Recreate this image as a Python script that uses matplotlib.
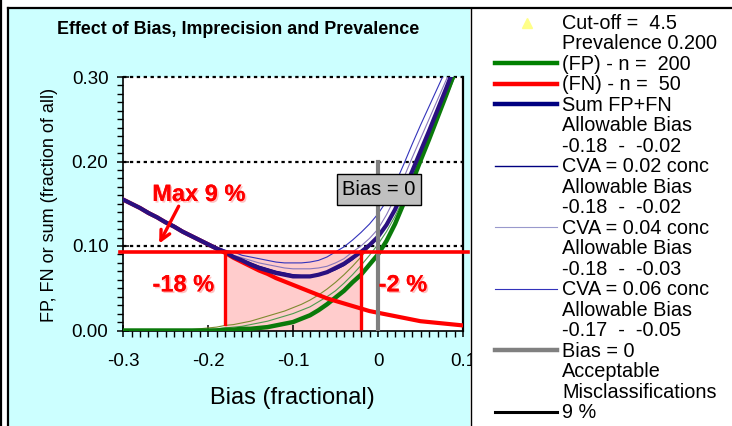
import matplotlib
matplotlib.use("Agg")
import matplotlib.pyplot as plt
from matplotlib.patches import Rectangle
from matplotlib.lines import Line2D
import matplotlib.patheffects as pe
from matplotlib.ticker import MultipleLocator, FixedLocator

plt.rcParams['font.family'] = ['Liberation Sans', 'DejaVu Sans']

# ---------------- data ----------------
bias = [-0.30, -0.29, -0.28, -0.27, -0.26, -0.25, -0.24, -0.23, -0.22, -0.21,
        -0.20, -0.19, -0.18, -0.17, -0.16, -0.15, -0.14, -0.13, -0.12, -0.11,
        -0.10, -0.09, -0.08, -0.07, -0.06, -0.05, -0.04, -0.03, -0.02, -0.01,
        0.00, 0.01, 0.02, 0.03, 0.04, 0.05, 0.06, 0.07, 0.08, 0.09, 0.10]

fp = [0.000, 0.000, 0.000, 0.000, 0.000, 0.000, 0.000, 0.000, 0.000, 0.000,
      0.000, 0.000, 0.001, 0.001, 0.002, 0.002, 0.003, 0.004, 0.006, 0.008,
      0.010, 0.014, 0.018, 0.024, 0.031, 0.039, 0.047, 0.057, 0.066, 0.078,
      0.090, 0.106, 0.126, 0.150, 0.175, 0.201, 0.226, 0.252, 0.278, 0.305, 0.332]

fn = [0.155, 0.150, 0.145, 0.139, 0.134, 0.128, 0.123, 0.117, 0.112, 0.107,
      0.102, 0.097, 0.092, 0.086, 0.081, 0.076, 0.071, 0.067, 0.062, 0.058,
      0.054, 0.050, 0.046, 0.042, 0.038, 0.035, 0.032, 0.029, 0.026, 0.023,
      0.021, 0.019, 0.017, 0.015, 0.013, 0.011, 0.010, 0.009, 0.008, 0.007, 0.006]

sum_fp_fn = [0.155, 0.150, 0.145, 0.139, 0.134, 0.128, 0.123, 0.117, 0.112, 0.107,
             0.102, 0.097, 0.093, 0.087, 0.083, 0.078, 0.074, 0.071, 0.068, 0.066,
             0.064, 0.064, 0.064, 0.066, 0.069, 0.074, 0.079, 0.086, 0.093, 0.101,
             0.111, 0.125, 0.143, 0.165, 0.188, 0.212, 0.236, 0.261, 0.286, 0.312, 0.338]

cva02_sum = [0.155, 0.150, 0.145, 0.139, 0.134, 0.128, 0.123, 0.117, 0.112, 0.107,
             0.102, 0.097, 0.093, 0.088, 0.084, 0.080, 0.076, 0.073, 0.070, 0.068,
             0.066, 0.065, 0.065, 0.066, 0.068, 0.072, 0.077, 0.084, 0.093, 0.101,
             0.112, 0.126, 0.144, 0.165, 0.188, 0.212, 0.237, 0.262, 0.287, 0.313, 0.339]

cva04_sum = [0.156, 0.151, 0.145, 0.140, 0.134, 0.129, 0.124, 0.118, 0.113, 0.108,
             0.103, 0.098, 0.093, 0.089, 0.086, 0.083, 0.080, 0.078, 0.076, 0.074,
             0.073, 0.073, 0.073, 0.074, 0.076, 0.080, 0.085, 0.093, 0.100, 0.109,
             0.120, 0.137, 0.157, 0.180, 0.204, 0.227, 0.250, 0.273, 0.296, 0.319, 0.342]

cva06_sum = [0.156, 0.151, 0.146, 0.141, 0.135, 0.130, 0.125, 0.119, 0.114, 0.109,
             0.104, 0.099, 0.095, 0.093, 0.089, 0.087, 0.085, 0.083, 0.081, 0.080,
             0.080, 0.080, 0.081, 0.083, 0.087, 0.093, 0.099, 0.107, 0.116, 0.126,
             0.138, 0.153, 0.173, 0.196, 0.220, 0.243, 0.265, 0.287, 0.309, 0.331, 0.353]

cva04_fp = [0.000, 0.000, 0.000, 0.000, 0.000, 0.000, 0.000, 0.000, 0.000, 0.000,
            0.001, 0.002, 0.003, 0.004, 0.005, 0.007, 0.009, 0.011, 0.014, 0.017,
            0.020, 0.024, 0.028, 0.034, 0.040, 0.047, 0.056, 0.066, 0.077, 0.089,
            0.102, 0.117, 0.135, 0.156, 0.179, 0.203, 0.227, 0.251, 0.275, 0.299, 0.323]

cva06_fp = [0.000, 0.000, 0.000, 0.000, 0.000, 0.000, 0.000, 0.000, 0.001, 0.002,
            0.003, 0.004, 0.006, 0.007, 0.009, 0.011, 0.014, 0.017, 0.020, 0.023,
            0.027, 0.031, 0.036, 0.042, 0.049, 0.057, 0.066, 0.076, 0.087, 0.099,
            0.112, 0.127, 0.145, 0.166, 0.189, 0.212, 0.235, 0.258, 0.281, 0.304, 0.327]

allow_lo, allow_hi = -0.18, -0.02
max_misclass = 0.093
drop_bottoms = [0.008, 0.003]
bias_zero_top = 0.20

xticks = [-0.3, -0.2, -0.1, 0.0, 0.1]
xticklabels = ["-0.3", "-0.2", "-0.1", "0", "0.1"]
yticks = [0.0, 0.1, 0.2, 0.3]
yticklabels = ["0.00", "0.10", "0.20", "0.30"]

legend_texts = ["Cut-off =  4.5", "Prevalence 0.200", "(FP) - n =  200", "(FN) - n =  50",
                "Sum FP+FN", "Allowable Bias", "-0.18  -  -0.02", "CVA = 0.02 conc",
                "Allowable Bias", "-0.18  -  -0.02", "CVA = 0.04 conc", "Allowable Bias",
                "-0.18  -  -0.03", "CVA = 0.06 conc", "Allowable Bias", "-0.17  -  -0.05",
                "Bias = 0", "Acceptable", "Misclassifications", "9 %"]

# ---------------- figure ----------------
W, H = 732, 426
fig = plt.figure(figsize=(W / 100, H / 100), dpi=100)


def fx(px):
    return px / W


def fy(py):
    return 1 - py / H


# cyan chart panel (behind axes)
fig.patches.append(Rectangle((fx(9), 0), fx(470) - fx(9), fy(9), transform=fig.transFigure,
                             facecolor='#CCFFFF', edgecolor='none', zorder=-2))
# white legend panel (over axes, clips the "0.1" label)
fig.patches.append(Rectangle((fx(471), 0), 1 - fx(471), fy(9), transform=fig.transFigure,
                             facecolor='white', edgecolor='none', zorder=5))
# borders
for xs, ys, lw in [([fx(1), fx(1)], [0, 1], 1.6),
                   ([fx(8), fx(8)], [0, fy(8)], 1.6),
                   ([fx(8), 1], [fy(8), fy(8)], 1.6),
                   ([fx(470.5), fx(470.5)], [0, fy(8)], 1.0)]:
    fig.lines.append(Line2D(xs, ys, transform=fig.transFigure, color='black', lw=lw, zorder=6))

ax = fig.add_axes([fx(123), fy(330.5), (463 - 123) / W, (330.5 - 77) / H])
ax.set_facecolor('white')
ax.set_xlim(-0.3, 0.1)
ax.set_ylim(0, 0.3)

# shaded allowable region
ax.fill_between([allow_lo, allow_hi], 0, max_misclass, color='#FFCCCC', lw=0, zorder=1)

# dotted grid lines
for yv in yticks[1:]:
    ax.axhline(yv, color='black', lw=1.6, ls=(0, (1.5, 1.6)), zorder=1.5, clip_on=False)

# CVA curves (thin)
ax.plot(bias, cva06_fp, color='#7F8A30', lw=0.8, zorder=2)
ax.plot(bias, cva04_fp, color='#4F9A4F', lw=0.8, zorder=2)
ax.plot(bias, cva06_sum, color='#3333BB', lw=0.8, zorder=2.2)
ax.plot(bias, cva04_sum, color='#8877BB', lw=0.8, zorder=2.2)
ax.plot(bias, cva02_sum, color='#000080', lw=1.0, zorder=2.2)

# main curves
ax.plot(bias, fp, color='#0A7A0A', lw=3.2, zorder=3)
ax.plot(bias, fn, color='#FF0000', lw=3.0, zorder=3.1)
ax.plot(bias, sum_fp_fn, color='#2A1080', lw=3.0, zorder=3.2)

# bias = 0 marker
ax.plot([0, 0], [0, bias_zero_top], color='#808080', lw=3.0, zorder=3.5)

# acceptable misclassification line and drop lines
ax.plot([-0.3035, 0.106], [max_misclass, max_misclass], color='#FF0000', lw=2.6,
        zorder=4, clip_on=False)
ax.plot([allow_lo, allow_lo], [drop_bottoms[0], max_misclass], color='#FF0000', lw=2.4, zorder=4)
ax.plot([allow_hi, allow_hi], [drop_bottoms[1], max_misclass], color='#FF0000', lw=2.4, zorder=4)

# spines / ticks
ax.spines['top'].set_visible(False)
for s in ['left', 'bottom', 'right']:
    ax.spines[s].set_color('black')
    ax.spines[s].set_linewidth(1.2)
ax.spines['right'].set_linewidth(1.6)
ax.xaxis.set_major_locator(FixedLocator(xticks))
ax.set_xticklabels(xticklabels)
ax.yaxis.set_major_locator(FixedLocator(yticks))
ax.set_yticklabels(yticklabels)
ax.xaxis.set_minor_locator(MultipleLocator(0.01))
ax.yaxis.set_minor_locator(MultipleLocator(0.01))
ax.tick_params(which='major', direction='inout', length=9, width=1.1, labelsize=13.5,
               colors='black')
ax.tick_params(axis='x', which='major', pad=12)
ax.tick_params(axis='y', which='major', pad=6)
ax.tick_params(which='minor', direction='out', length=4.5, width=1.0)

# annotations
shadow = [pe.withSimplePatchShadow(offset=(1.2, -1.2), shadow_rgbFace='#FF9999', alpha=0.6),
          pe.Normal()]
ax.text(-0.2106, 0.161, "Max 9 %", color='#FF0000', fontsize=17, fontweight='bold',
        ha='center', va='center', zorder=6, path_effects=shadow)
ax.text(-0.229, 0.054, "-18 %", color='#FF0000', fontsize=17, fontweight='bold',
        ha='center', va='center', zorder=6, path_effects=shadow)
ax.text(0.0294, 0.054, "-2 %", color='#FF0000', fontsize=17, fontweight='bold',
        ha='center', va='center', zorder=6, path_effects=shadow)
ax.annotate('', xy=(-0.259, 0.100), xytext=(-0.233, 0.150),
            arrowprops=dict(arrowstyle='->,head_length=0.7,head_width=0.35', color='#FF0000',
                            lw=2.4), zorder=6)
ax.text(0.0012, 0.167, "Bias = 0", fontsize=14.5, ha='center', va='center', zorder=6,
        bbox=dict(boxstyle='square,pad=0.28', facecolor='#C0C0C0', edgecolor='black', lw=1.0))

# titles / labels
fig.text(fx(238), fy(30), "Effect of Bias, Imprecision and Prevalence", fontsize=12.9,
         fontweight='bold', ha='center', va='center')
fig.text(fx(292), fy(398), "Bias (fractional)", fontsize=17, ha='center', va='center')
fig.text(fx(49), fy(205), "FP, FN or sum (fraction of all)", fontsize=13, rotation=90,
         ha='center', va='center')

# ---------------- legend panel ----------------
handles = {
    2: dict(color='#008000', lw=3.2),
    3: dict(color='#FF0000', lw=3.2),
    4: dict(color='#000080', lw=3.2),
    7: dict(color='#000080', lw=1.0),
    10: dict(color='#9999CC', lw=0.8),
    13: dict(color='#3333BB', lw=0.8),
    16: dict(color='#808080', lw=3.2),
    19: dict(color='black', lw=2.2),
}
for i, txt in enumerate(legend_texts):
    yy = 23.3 + 20.5 * i
    fig.text(fx(562), fy(yy), txt, fontsize=14.3, ha='left', va='center', zorder=7)
    if i in handles:
        fig.lines.append(Line2D([fx(495), fx(557)], [fy(yy - 1), fy(yy - 1)],
                                transform=fig.transFigure, zorder=7, **handles[i]))
fig.lines.append(Line2D([fx(527)], [fy(23)], transform=fig.transFigure, marker='^',
                        markersize=7, color='#FFFF88', markeredgecolor='#FFFF88', lw=0,
                        zorder=7))

fig.savefig('out.png', dpi=100)
